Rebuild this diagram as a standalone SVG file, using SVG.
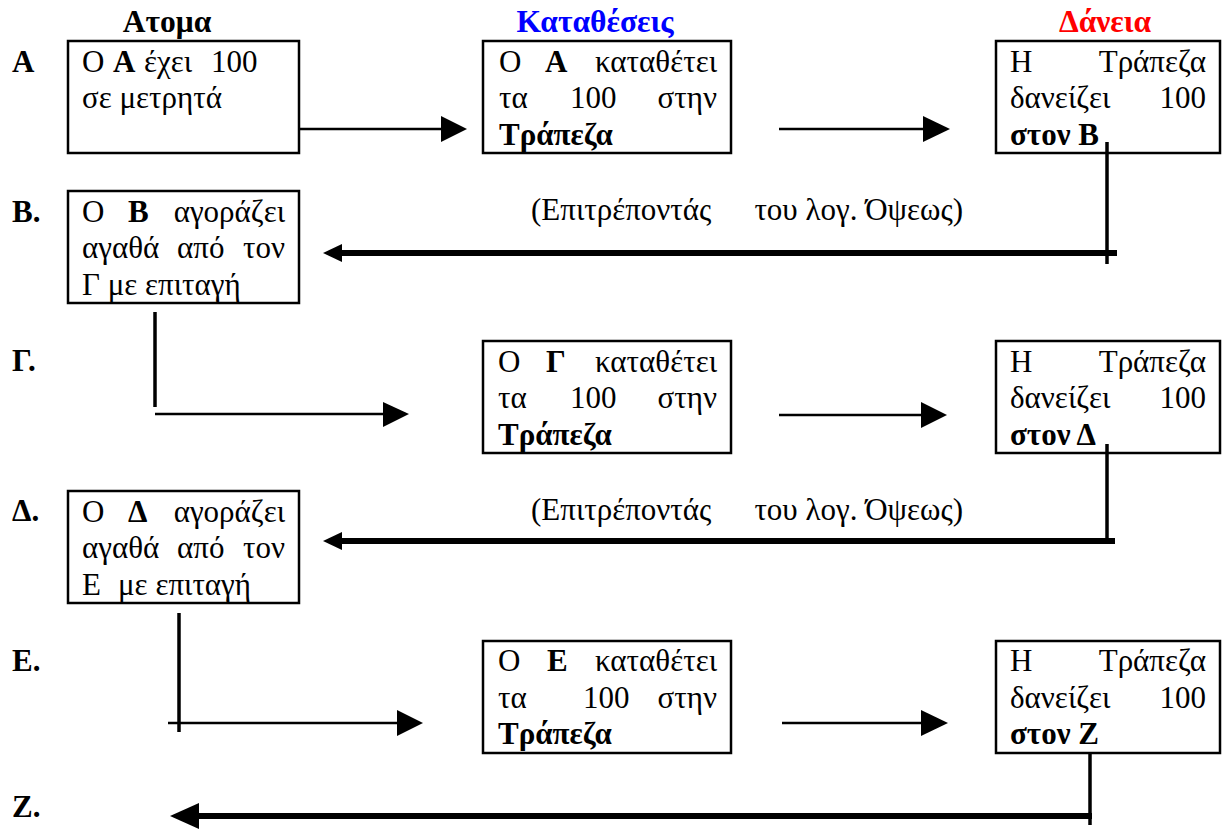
<svg xmlns="http://www.w3.org/2000/svg" width="1225" height="830" viewBox="0 0 1225 830">
<style>
text{font-family:"Liberation Serif","Times New Roman","DejaVu Serif",serif;font-size:31px;fill:#000}
.b{font-weight:bold}
.h{font-weight:bold;text-anchor:middle;font-size:31.5px}
.e{text-anchor:end}
.box{fill:#fff;stroke:#000;stroke-width:2.5}
.thin{stroke:#000;stroke-width:2.5;fill:none}
.thick{stroke:#000;stroke-width:6;fill:none}
.vert{stroke:#000;stroke-width:3.5;fill:none}
.head{fill:#000;stroke:none}
</style>
<rect width="1225" height="830" fill="#fff"/>
<g id="headers">
<text class="h" x="167" y="32">Ατομα</text>
<text class="h" x="595" y="32" style="fill:#0000ff">Καταθέσεις</text>
<text class="h" x="1105" y="32" style="fill:#ff0000">Δάνεια</text>
</g>
<g id="row-labels">
<text class="b" x="12" y="72">A</text>
<text class="b" x="12" y="222">B.</text>
<text class="b" x="12" y="371">Γ.</text>
<text class="b" x="12" y="521">Δ.</text>
<text class="b" x="12" y="671">E.</text>
<text class="b" x="12" y="817">Z.</text>
</g>
<g id="node-a">
<rect class="box" x="68" y="41" width="231" height="112"/>
<text x="82" y="72">O</text><text class="b" x="113" y="72">A</text><text x="144" y="72">έχει</text><text x="211" y="72">100</text>
<text x="82" y="108">σε μετρητά</text>
</g>
<g id="node-dep-a">
<rect class="box" x="483" y="41" width="248" height="112"/>
<text x="499" y="72">O</text><text class="b" x="545" y="72">A</text><text class="e" x="717" y="72">καταθέτει</text>
<text x="499" y="108">τα</text><text x="570" y="108">100</text><text class="e" x="717" y="108">στην</text>
<text class="b" x="499" y="145">Τράπεζα</text>
</g>
<g id="node-loan-b">
<rect class="box" x="996" y="41" width="224" height="112"/>
<text x="1010" y="72">H</text><text class="e" x="1206" y="72">Τράπεζα</text>
<text x="1010" y="108">δανείζει</text><text class="e" x="1206" y="108">100</text>
<text class="b" x="1010" y="145">στον B</text>
</g>
<g id="node-b">
<rect class="box" x="68" y="191" width="231" height="112"/>
<text x="82" y="222">O</text><text class="b" x="128" y="222">B</text><text class="e" x="285" y="222">αγοράζει</text>
<text x="82" y="258">αγαθά</text><text x="177" y="258">από</text><text class="e" x="285" y="258">τον</text>
<text x="82" y="295">Γ με επιταγή</text>
</g>
<g id="node-dep-g">
<rect class="box" x="483" y="341" width="248" height="112"/>
<text x="498" y="372">O</text><text class="b" x="546" y="372">Γ</text><text class="e" x="717" y="372">καταθέτει</text>
<text x="498" y="408">τα</text><text x="570" y="408">100</text><text class="e" x="717" y="408">στην</text>
<text class="b" x="498" y="445">Τράπεζα</text>
</g>
<g id="node-loan-d">
<rect class="box" x="996" y="341" width="224" height="112"/>
<text x="1010" y="372">H</text><text class="e" x="1206" y="372">Τράπεζα</text>
<text x="1010" y="408">δανείζει</text><text class="e" x="1206" y="408">100</text>
<text class="b" x="1010" y="445">στον Δ</text>
</g>
<g id="node-d">
<rect class="box" x="68" y="491" width="231" height="112"/>
<text x="82" y="522">O</text><text class="b" x="128" y="522">Δ</text><text class="e" x="285" y="522">αγοράζει</text>
<text x="82" y="558">αγαθά</text><text x="177" y="558">από</text><text class="e" x="285" y="558">τον</text>
<text x="82" y="595">E</text><text x="118" y="595">με επιταγή</text>
</g>
<g id="node-dep-e">
<rect class="box" x="483" y="641" width="248" height="112"/>
<text x="498" y="671">O</text><text class="b" x="547" y="671">E</text><text class="e" x="717" y="671">καταθέτει</text>
<text x="498" y="708">τα</text><text x="583" y="708">100</text><text class="e" x="717" y="708">στην</text>
<text class="b" x="498" y="744">Τράπεζα</text>
</g>
<g id="node-loan-z">
<rect class="box" x="996" y="641" width="224" height="112"/>
<text x="1010" y="671">H</text><text class="e" x="1206" y="671">Τράπεζα</text>
<text x="1010" y="708">δανείζει</text><text class="e" x="1206" y="708">100</text>
<text class="b" x="1010" y="744">στον Z</text>
</g>
<g id="connectors">
<!-- row A -->
<line class="thin" x1="299" y1="129" x2="442" y2="129"/>
<polygon class="head" points="441,116 467,129 441,142"/>
<line class="thin" x1="779" y1="129" x2="925" y2="129"/>
<polygon class="head" points="923,116 950,129 923,142"/>
<line class="vert" x1="1107" y1="142" x2="1107" y2="264"/>
<line class="thick" x1="1117" y1="253" x2="340" y2="253"/>
<polygon class="head" points="342,244 323,253 342,262"/>
<text x="531" y="220">(Επιτρέποντάς</text><text class="e" x="963" y="220">του λογ. Όψεως)</text>
<!-- row Γ -->
<line class="vert" x1="155" y1="312" x2="155" y2="407"/>
<line class="thin" x1="155" y1="414" x2="385" y2="414"/>
<polygon class="head" points="383,402 409,414 383,427"/>
<line class="thin" x1="779" y1="415" x2="923" y2="415"/>
<polygon class="head" points="921,402 947,415 921,428"/>
<line class="vert" x1="1107" y1="444" x2="1107" y2="544"/>
<line class="thick" x1="1115" y1="541" x2="340" y2="541"/>
<polygon class="head" points="342,532 323,541 342,550"/>
<text x="531" y="520">(Επιτρέποντάς</text><text class="e" x="963" y="520">του λογ. Όψεως)</text>
<!-- row E -->
<line class="vert" x1="179" y1="613" x2="179" y2="732"/>
<line class="thin" x1="168" y1="723" x2="399" y2="723"/>
<polygon class="head" points="397,710 423,723 397,736"/>
<line class="thin" x1="782" y1="723" x2="923" y2="723"/>
<polygon class="head" points="921,710 948,723 921,736"/>
<line class="vert" x1="1090" y1="753" x2="1090" y2="825"/>
<line class="thick" x1="1092" y1="816" x2="197" y2="816"/>
<polygon class="head" points="199,803 170,816 199,829"/>
</g>
</svg>
